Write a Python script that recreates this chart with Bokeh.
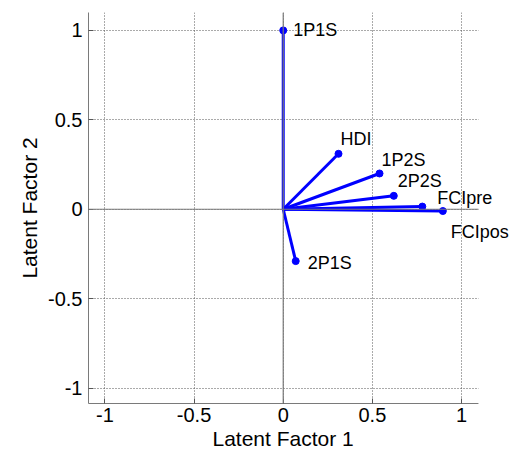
from bokeh.plotting import figure
from bokeh.models import ColumnDataSource, Span, Range1d, FixedTicker, Label, BoxAnnotation, Title
from bokeh.embed import file_html
from bokeh.resources import INLINE

names = ["1P1S", "HDI", "1P2S", "2P2S", "FCIpre", "FCIpos", "2P1S"]
factor1 = [0.0, 0.31, 0.54, 0.62, 0.78, 0.895, 0.07]
factor2 = [1.0, 0.31, 0.20, 0.075, 0.015, -0.01, -0.29]
tick_values = [-1, -0.5, 0, 0.5, 1]
tick_labels = ["-1", "-0.5", "0", "0.5", "1"]
x_title = "Latent Factor 1"
y_title = "Latent Factor 2"

# axes limits
X_MIN, X_MAX = -1.092, 1.095
Y_MIN, Y_MAX = -1.086, 1.10

# label pixel offsets (layout only)
label_dx = [10, 2, 2, 4, 15, 8, 12]
label_dy = [0, 15, 13, 15, 9, -21, -2]

src = ColumnDataSource(dict(
    x0=[0.0] * len(names), y0=[0.0] * len(names),
    x=factor1, y=factor2,
))

FONT = "Liberation Sans"
GRAY = "#7a7a7a"

# frame extended to the right so that text labels are not clipped
FRAME_W = 426
scale = 390 / (X_MAX - X_MIN)
x_end_ext = X_MIN + FRAME_W / scale

p = figure(width=88 + FRAME_W, height=450, output_backend="svg", toolbar_location=None,
           x_range=Range1d(X_MIN, x_end_ext), y_range=Range1d(Y_MIN, Y_MAX),
           min_border_left=88, min_border_right=0, min_border_top=12, min_border_bottom=47)
p.outline_line_color = None
p.background_fill_color = "white"

for ax in (p.xaxis[0], p.yaxis[0]):
    ax.ticker = FixedTicker(ticks=tick_values)
    ax.major_label_overrides = {v: l for v, l in zip(tick_values, tick_labels)}
    ax.axis_line_color = GRAY
    ax.major_tick_line_color = "#555555"
    ax.major_tick_in = 5
    ax.major_tick_out = 0
    ax.minor_tick_line_color = None
    ax.major_label_text_font = FONT
    ax.major_label_text_font_size = "20px"
    ax.major_label_text_color = "black"
    ax.axis_label_text_font = FONT
    ax.axis_label_text_font_size = "21px"
    ax.axis_label_text_font_style = "normal"
    ax.axis_label_text_color = "black"

p.xaxis.bounds = (X_MIN, X_MAX)
p.yaxis.axis_label = y_title
p.xaxis.major_label_standoff = 4
p.yaxis.major_label_standoff = 6
p.yaxis.axis_label_standoff = 4

# x-axis title placed under the real (non-extended) axes
p.add_layout(Title(text=x_title, align="left", offset=124, standoff=0,
                   text_font=FONT, text_font_size="21px", text_font_style="normal",
                   text_color="black"), "below")

for g in (p.xgrid[0], p.ygrid[0]):
    g.ticker = FixedTicker(ticks=tick_values)
    g.grid_line_color = "#555555"
    g.grid_line_dash = "1 2"
    g.grid_line_width = 1

p.add_layout(Span(location=0, dimension="width", line_color=GRAY, line_width=1.2))
p.add_layout(Span(location=0, dimension="height", line_color=GRAY, line_width=1.2))
# blank out the extended region beyond the real axes
p.add_layout(BoxAnnotation(left=X_MAX, fill_color="white", fill_alpha=1.0, line_color=None))

p.segment(x0="x0", y0="y0", x1="x", y1="y", source=src, line_color="#0000ff", line_width=3)
p.scatter(x="x", y="y", source=src, size=7, fill_color="#0000ff", line_color="#0000ff")
for nm, xv, yv, dx, dy in zip(names, factor1, factor2, label_dx, label_dy):
    p.add_layout(Label(x=xv, y=yv, text=nm, x_offset=dx, y_offset=dy,
                       text_font=FONT, text_font_size="18px", text_color="black",
                       text_baseline="middle", text_align="left"))

open("out.html", "w").write(file_html(p, INLINE))
